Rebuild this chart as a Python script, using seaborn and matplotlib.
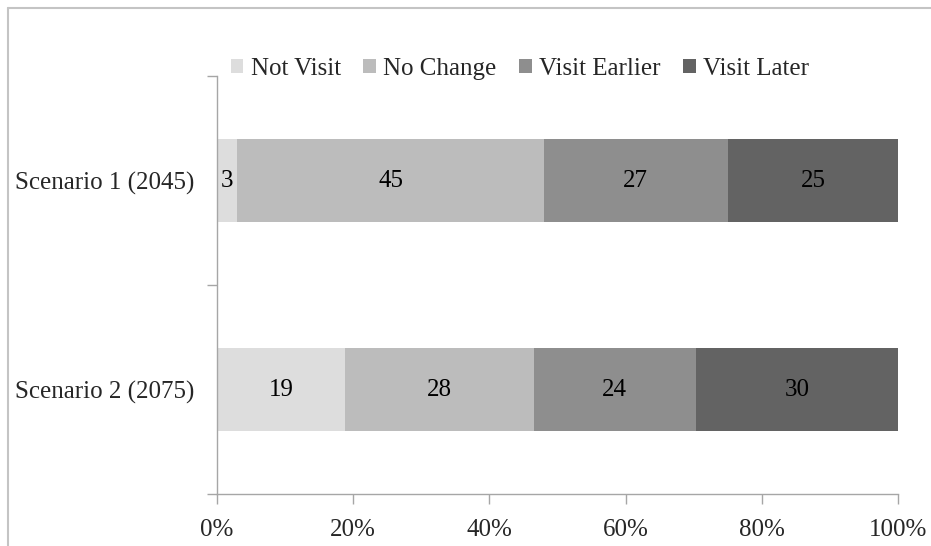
import numpy as np
import pandas as pd
import matplotlib
matplotlib.use("Agg")
import matplotlib.pyplot as plt
from matplotlib.lines import Line2D
import seaborn as sns

scenarios = ["Scenario 1 (2045)", "Scenario 2 (2075)"]
responses = ["Not Visit", "No Change", "Visit Earlier", "Visit Later"]
not_visit = [3, 19]
no_change = [45, 28]
visit_earlier = [27, 24]
visit_later = [25, 30]
x_ticks = [0, 20, 40, 60, 80, 100]

colors = ["#dddddd", "#bcbcbc", "#8e8e8e", "#636363"]
FS = 18

sns.set_theme(style="white")
plt.rcParams["font.family"] = ["Liberation Serif", "DejaVu Serif"]

values = np.array([not_visit, no_change, visit_earlier, visit_later], dtype=float)
shares = values / values.sum(axis=0) * 100.0
cum = np.cumsum(shares, axis=0)

fig = plt.figure(figsize=(9.31, 5.46), dpi=100)
ax = fig.add_axes([217 / 931, 1 - 494 / 546, (898 - 217) / 931, (494 - 76) / 546])

# 100% stacked bars: draw cumulative totals from the outermost segment inward
for i in range(len(responses) - 1, -1, -1):
    df = pd.DataFrame({"scenario": scenarios, "total": cum[i]})
    sns.barplot(data=df, y="scenario", x="total", orient="h", color=colors[i],
                width=0.4, saturation=1, linewidth=0, ax=ax, label=responses[i])

handles, labels = ax.get_legend_handles_labels()
if ax.get_legend() is not None:
    ax.get_legend().remove()

for i in range(len(responses)):
    for j in range(len(scenarios)):
        center = cum[i, j] - shares[i, j] / 2
        ax.text(center, j, f"{int(values[i, j])}", ha="center", va="center",
                fontsize=FS, color="black")

ax.set_xlim(0, 100)
ax.set_ylim(1.5, -0.5)
ax.set_xticks(x_ticks)
ax.set_xticklabels([f"{t}%" for t in x_ticks], fontsize=FS)
ax.set_yticks([-0.5, 0.5, 1.5], minor=True)
ax.set_yticks([0, 1])
ax.set_yticklabels(scenarios, fontsize=FS)
ax.set_xlabel("")
ax.set_ylabel("")

for side in ["top", "right"]:
    ax.spines[side].set_visible(False)
for side in ["left", "bottom"]:
    ax.spines[side].set_color("#a6a6a6")
    ax.spines[side].set_linewidth(1.0)

ax.tick_params(axis="x", which="major", direction="out", length=7, width=1,
               color="#a6a6a6", pad=11, bottom=True)
ax.tick_params(axis="y", which="major", length=0, pad=16)
ax.tick_params(axis="y", which="minor", direction="out", length=7, width=1,
               color="#a6a6a6", left=True)
ax.grid(False)

order = [labels.index(r) for r in responses]
leg = fig.legend([handles[k] for k in order], [labels[k] for k in order],
                 loc="center", bbox_to_anchor=(520 / 931, 1 - 69 / 546), ncol=4,
                 frameon=False, fontsize=FS, handlelength=0.5, handleheight=0.5,
                 handletextpad=0.3, columnspacing=0.9, borderpad=0)

# outer chart frame (top and left edges visible within the canvas)
frame_kw = dict(transform=fig.transFigure, color="#c4c4c4", linewidth=1.5)
fig.add_artist(Line2D([7.5 / 931, 1.0], [1 - 8 / 546, 1 - 8 / 546], **frame_kw))
fig.add_artist(Line2D([7.5 / 931, 7.5 / 931], [0.0, 1 - 8 / 546], **frame_kw))

fig.savefig("out.png", dpi=100, facecolor="white")
